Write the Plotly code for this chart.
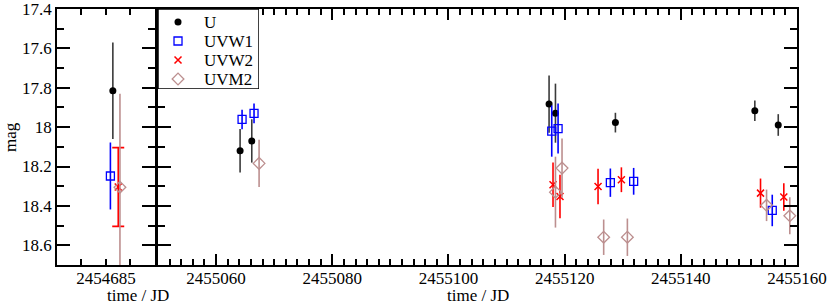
import plotly.graph_objects as go

# photometry: Julian date, magnitude, 1-sigma error
u_jd = [2454685.14, 2455064.13, 2455066.14, 2455117.32, 2455118.42, 2455128.74, 2455152.74, 2455156.77]
u_mag = [17.815, 18.12, 18.07, 17.883, 17.929, 17.977, 17.917, 17.989]
u_err = [0.245, 0.11, 0.11, 0.145, 0.15, 0.05, 0.052, 0.055]

uvw1_jd = [2454685.09, 2455064.47, 2455066.53, 2455117.78, 2455118.87, 2455127.87, 2455131.88, 2455155.74]
uvw1_mag = [18.248, 17.961, 17.93, 18.02, 18.007, 18.282, 18.275, 18.423]
uvw1_err = [0.17, 0.05, 0.05, 0.13, 0.127, 0.072, 0.068, 0.08]

uvw2_jd = [2454685.25, 2455118.0, 2455119.2, 2455125.75, 2455129.77, 2455153.72, 2455157.73]
uvw2_mag = [18.304, 18.292, 18.352, 18.301, 18.267, 18.335, 18.355]
uvw2_err = [0.2, 0.113, 0.11, 0.09, 0.063, 0.074, 0.07]

uvm2_jd = [2454685.285, 2455067.4, 2455118.42, 2455119.55, 2455126.72, 2455130.8, 2455154.76, 2455158.76]
uvm2_mag = [18.305, 18.184, 18.33, 18.208, 18.559, 18.559, 18.397, 18.45]
uvm2_err = [0.475, 0.12, 0.18, 0.15, 0.09, 0.095, 0.08, 0.094]

left_ticks = [2454685]
left_minor = [2454684.5, 2454685.5]
y_ticks = [17.4, 17.6, 17.8, 18.0, 18.2, 18.4, 18.6]

FONT = "Liberation Serif, Times New Roman, serif"
SPLIT = 2455000
LEFT_DOM = [0, 0.1324]
RIGHT_DOM = [0.1365, 1]
# legend box drawn on its own small subplot (units: one row / 20 px)
LEG_XDOM = [RIGHT_DOM[0], RIGHT_DOM[0] + 101 / 740]
LEG_YDOM = [1 - 80 / 256, 1]
LEG_XR = [-1, 4.05]
LEG_YR = [3.526, -0.684]

series = [
    ("U", u_jd, u_mag, u_err, dict(symbol="circle", size=7, color="black"), "#3a3a3a", 0),
    ("UVW1", uvw1_jd, uvw1_mag, uvw1_err,
     dict(symbol="square-open", size=8, color="#0000ff", line=dict(width=1.3, color="#0000ff")), "#0000ff", 0),
    ("UVW2", uvw2_jd, uvw2_mag, uvw2_err,
     dict(symbol="x-thin-open", size=7, color="#ff0000", line=dict(width=1.5, color="#ff0000")), "#ff0000", 6),
    ("UVM2", uvm2_jd, uvm2_mag, uvm2_err,
     dict(symbol="diamond-open", size=9, color="#bc8f8f", line=dict(width=1.3, color="#bc8f8f")), "#bc8f8f", 0),
]

fig = go.Figure()

for row, (name, jd, mag, err, marker, ecol, capw) in enumerate(series):
    early = [i for i, t in enumerate(jd) if t < SPLIT]
    late = [i for i, t in enumerate(jd) if t >= SPLIT]
    # early epoch (left panel)
    fig.add_trace(go.Scatter(
        x=[jd[i] for i in early], y=[mag[i] for i in early],
        error_y=dict(type="data", array=[err[i] for i in early], color=ecol, thickness=1.6, width=capw),
        mode="markers", marker=marker, name=name, xaxis="x", yaxis="y"))
    # later epochs (right panel)
    fig.add_trace(go.Scatter(
        x=[jd[i] for i in late], y=[mag[i] for i in late],
        error_y=dict(type="data", array=[err[i] for i in late], color=ecol, thickness=1.6, width=0),
        mode="markers", marker=marker, name=name, xaxis="x2", yaxis="y2"))
    # legend entry
    fig.add_trace(go.Scatter(x=[0], y=[row], mode="markers", marker=marker,
                             hoverinfo="skip", xaxis="x3", yaxis="y3"))
    fig.add_annotation(text=name, xref="x3", yref="y3", x=1.2, y=row,
                       xanchor="left", yanchor="middle", showarrow=False,
                       font=dict(family=FONT, size=17))

fig.add_shape(type="rect", xref="x3", yref="y3", layer="below",
              x0=LEG_XR[0], x1=LEG_XR[1], y0=LEG_YR[1], y1=LEG_YR[0],
              fillcolor="white", line=dict(color="black", width=1.5))

axis_common = dict(showline=True, linecolor="black", linewidth=1.5, mirror="ticks",
                   ticks="inside", tickcolor="black", tickwidth=1.5, showgrid=False,
                   zeroline=False, automargin=False, ticklabeloverflow="allow",
                   tickfont=dict(family=FONT, size=17, color="black"))

fig.update_layout(
    template="none",
    showlegend=False,
    width=830, height=305,
    margin=dict(l=57, r=33, t=9, b=40),
    paper_bgcolor="white", plot_bgcolor="white",
    font=dict(family=FONT, size=17, color="black"),
    xaxis=dict(domain=LEFT_DOM, range=[2454684, 2454686], anchor="y",
               tickmode="array", tickvals=left_ticks, ticklen=6, ticklabelstandoff=-3,
               minor=dict(tickmode="array", tickvals=left_minor, ticklen=6, ticks="inside", tickcolor="black"),
               tickformat="d", **axis_common),
    xaxis2=dict(domain=RIGHT_DOM, range=[2455050, 2455160], anchor="y2",
                dtick=20, tick0=2455060, ticklen=11, ticklabelstandoff=-3,
                minor=dict(dtick=2, ticklen=6, ticks="inside", tickcolor="black"),
                tickformat="d", **axis_common),
    yaxis=dict(domain=[0, 1], range=[18.7, 17.4], anchor="x",
               tickmode="array", tickvals=y_ticks, ticklen=13,
               minor=dict(dtick=0.1, tick0=17.4, ticklen=7, ticks="inside", tickcolor="black"),
               **axis_common),
    yaxis2=dict(domain=[0, 1], range=[18.7, 17.4], anchor="x2", matches="y",
                tickmode="array", tickvals=y_ticks, ticklen=13, showticklabels=False,
                minor=dict(dtick=0.1, tick0=17.4, ticklen=7, ticks="inside", tickcolor="black"),
                **axis_common),
    xaxis3=dict(domain=LEG_XDOM, range=LEG_XR, anchor="y3", visible=False, fixedrange=True),
    yaxis3=dict(domain=LEG_YDOM, range=LEG_YR, anchor="x3", visible=False, fixedrange=True),
)

# axis titles
for dom in (LEFT_DOM, RIGHT_DOM):
    fig.add_annotation(text="time / JD", xref="paper", yref="paper",
                       x=(dom[0] + dom[1]) / 2, y=0, yanchor="bottom", yshift=-41,
                       borderpad=0, showarrow=False, font=dict(family=FONT, size=17))
fig.add_annotation(text="mag", xref="paper", yref="paper", x=0, y=0.5,
                   xanchor="center", xshift=-47, textangle=-90,
                   showarrow=False, font=dict(family=FONT, size=17))

# drop the default page margin so the figure sits at the window's corner
fig.write_html("out.html", config={"displayModeBar": False},
               post_script="document.body.style.margin='0';")
